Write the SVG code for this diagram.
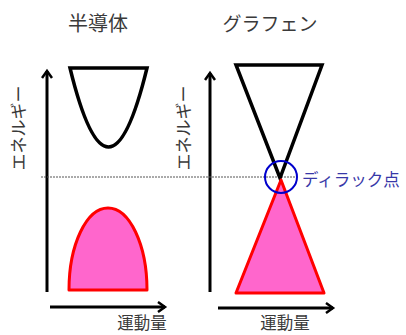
<svg xmlns="http://www.w3.org/2000/svg" width="406" height="335" viewBox="0 0 406 335">
<defs>
<marker id="arr" markerWidth="12" markerHeight="12" refX="9" refY="6" orient="auto" markerUnits="userSpaceOnUse">
<path d="M2,1 L9,6 L2,11" fill="none" stroke="#000" stroke-width="2.5"/>
</marker>
<style>
.t{font-family:"Noto Sans CJK JP","Noto Sans CJK SC",sans-serif;fill:#3a3a3a}
.ax{stroke:#000;stroke-width:3;fill:none}
.blk{fill:none;stroke:#000;stroke-width:3.5;stroke-linejoin:miter}
.pk{fill:#ff66cc;stroke:#ff0000;stroke-width:3;stroke-linejoin:round}
</style>
</defs>
<rect width="406" height="335" fill="#fff"/>
<g id="connectors">
<line class="ax" x1="47" y1="292" x2="47" y2="71" marker-end="url(#arr)"/>
<line class="ax" x1="50" y1="307" x2="165" y2="307" marker-end="url(#arr)"/>
<line class="ax" x1="210" y1="292" x2="210" y2="73" marker-end="url(#arr)"/>
<line class="ax" x1="218" y1="308" x2="333" y2="308" marker-end="url(#arr)"/>
<line x1="41" y1="177" x2="296" y2="177" stroke="#555" stroke-width="1" stroke-dasharray="2,1"/>
</g>
<g id="semiconductor">
<text class="t" x="98" y="31" font-size="20" text-anchor="middle">半導体</text>
<path class="blk" d="M70,68 Q108.5,226 147,68 Z"/>
<path class="pk" d="M69,290 A39,82 0 0 1 147,290 Z"/>
<text class="t" transform="translate(25,128) rotate(-90)" font-size="17" text-anchor="middle">エネルギー</text>
<text class="t" x="142" y="329" font-size="16.5" text-anchor="middle">運動量</text>
</g>
<g id="graphene">
<text class="t" x="270" y="31" font-size="19" text-anchor="middle">グラフェン</text>
<path class="blk" d="M236,65 L322,65 L280,178 Z"/>
<path class="pk" d="M281,180 L324,293 L236,293 Z"/>
<text class="t" transform="translate(190,128) rotate(-90)" font-size="17" text-anchor="middle">エネルギー</text>
<text class="t" x="285" y="329" font-size="16.5" text-anchor="middle">運動量</text>
</g>
<g id="dirac">
<circle cx="281" cy="177" r="16" fill="none" stroke="#0000cc" stroke-width="2"/>
<text x="302" y="186" font-size="16.5" font-family="Noto Sans CJK JP,sans-serif" fill="#3838a8">ディラック点</text>
</g>
</svg>
